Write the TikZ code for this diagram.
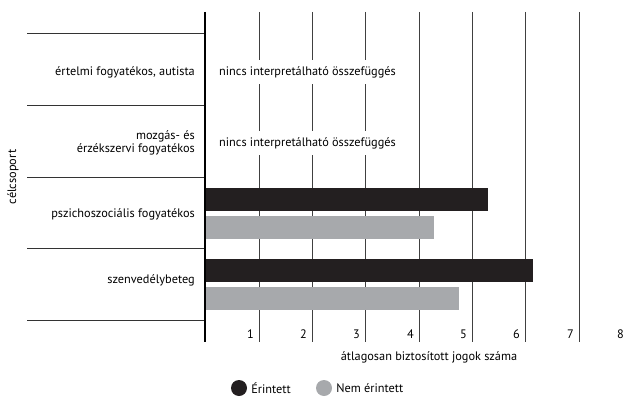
\documentclass[tikz,border=0pt]{standalone}
\usepackage{fontspec}
\setmainfont{PT Sans}
\usetikzlibrary{positioning}
\definecolor{darkbar}{HTML}{231F20}
\definecolor{lightbar}{HTML}{A7A9AC}
\newcommand{\chartfont}{\fontsize{12.3}{12.5}\selectfont}
\tikzset{
  grid line/.style={black!75, line width=0.8pt},
  row line/.style={black!80, line width=0.8pt},
  catlabel/.style={anchor=east, align=right, font=\chartfont, inner sep=0pt},
  nolabel/.style={anchor=west, fill=white, inner xsep=2pt, inner ysep=6pt, font=\chartfont},
  ticklabel/.style={anchor=east, inner sep=0pt, font=\chartfont},
  legdot/.style={circle, minimum size=16pt, inner sep=0pt}
}
\begin{document}
\begin{tikzpicture}[x=1pt,y=-1pt]
\useasboundingbox (0,0) rectangle (626,396);

% vertical grid lines
\draw [grid line] (259,12)--(259,342);
\draw [grid line] (312,12)--(312,342);
\draw [grid line] (365,12)--(365,342);
\draw [grid line] (419,12)--(419,342);
\draw [grid line] (472,12)--(472,342);
\draw [grid line] (525,12)--(525,342);
\draw [grid line] (579,12)--(579,342);

% row separators
\draw [row line] (27,33)--(205,33);
\draw [row line] (27,105)--(205,105);
\draw [row line] (27,177)--(205,177);
\draw [row line] (27,248)--(205,248);
\draw [row line] (27,320)--(205,320);

% bars
\fill [darkbar] (205,188) rectangle (488,211);
\fill [lightbar] (205,216) rectangle (434,239);
\fill [darkbar] (205,259) rectangle (533,282);
\fill [lightbar] (205,287) rectangle (459,310);

% axis
\draw [black, line width=1.5pt] (205,12)--(205,342);

\node [nolabel] (none1) at (217,72) {nincs interpretálható összefüggés};
\node [nolabel] (none2) at (217,143) {nincs interpretálható összefüggés};

\node [catlabel] (cat1) at (195,72) {értelmi fogyatékos, autista};
\node [catlabel] (cat2) at (195,143) {mozgás- és\\érzékszervi fogyatékos};
\node [catlabel] (cat3) at (195,214) {pszichoszociális fogyatékos};
\node [catlabel] (cat4) at (195,280) {szenvedélybeteg};

\node [rotate=90, font=\chartfont] (ylab) at (13,177) {célcsoport};

\node [ticklabel] (t1) at (254,334) {1};
\node [ticklabel] (t2) at (307,334) {2};
\node [ticklabel] (t3) at (360,334) {3};
\node [ticklabel] (t4) at (414,334) {4};
\node [ticklabel] (t5) at (467,334) {5};
\node [ticklabel] (t6) at (520,334) {6};
\node [ticklabel] (t7) at (574,334) {7};
\node [ticklabel] (t8) at (624,334) {8};

\node [font=\chartfont] (xlab) at (429,357) {átlagosan biztosított jogok száma};

\node [legdot, fill=darkbar] (dot1) at (239,388) {};
\node [right=4pt of dot1, inner sep=0pt, font=\chartfont] (leg1) {Érintett};
\node [legdot, fill=lightbar] (dot2) at (324,388) {};
\node [right=4pt of dot2, inner sep=0pt, font=\chartfont] (leg2) {Nem érintett};

\end{tikzpicture}
\end{document}
